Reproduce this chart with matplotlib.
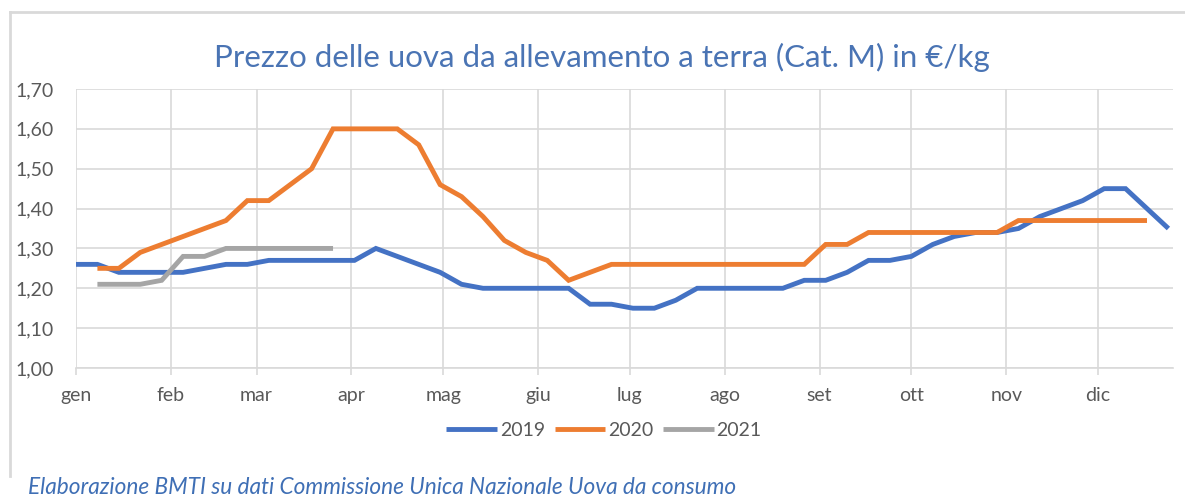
import matplotlib
matplotlib.use("Agg")
import matplotlib.pyplot as plt
from matplotlib.lines import Line2D
import numpy as np

# weekly prices (week index counted from 1 January)
prezzi_2019 = [1.26, 1.26, 1.24, 1.24, 1.24, 1.24, 1.25, 1.26, 1.26, 1.27, 1.27, 1.27, 1.27,
               1.27, 1.30, 1.28, 1.26, 1.24, 1.21, 1.20, 1.20, 1.20, 1.20, 1.20, 1.16, 1.16,
               1.15, 1.15, 1.17, 1.20, 1.20, 1.20, 1.20, 1.20, 1.22, 1.22, 1.24, 1.27, 1.27,
               1.28, 1.31, 1.33, 1.34, 1.34, 1.35, 1.38, 1.40, 1.42, 1.45, 1.45, 1.40, 1.35]
prezzi_2020 = [None, 1.25, 1.25, 1.29, 1.31, 1.33, 1.35, 1.37, 1.42, 1.42, 1.46, 1.50, 1.60,
               1.60, 1.60, 1.60, 1.56, 1.46, 1.43, 1.38, 1.32, 1.29, 1.27, 1.22, 1.24, 1.26,
               1.26, 1.26, 1.26, 1.26, 1.26, 1.26, 1.26, 1.26, 1.26, 1.31, 1.31, 1.34, 1.34,
               1.34, 1.34, 1.34, 1.34, 1.34, 1.37, 1.37, 1.37, 1.37, 1.37, 1.37, 1.37]
prezzi_2021 = [None, 1.21, 1.21, 1.21, 1.22, 1.28, 1.28, 1.30, 1.30, 1.30, 1.30, 1.30, 1.30]

mesi = ["gen", "feb", "mar", "apr", "mag", "giu", "lug", "ago", "set", "ott", "nov", "dic"]
inizio_mese = [0, 31, 59, 90, 120, 151, 181, 212, 243, 273, 304, 334]
y_ticks = [1.00, 1.10, 1.20, 1.30, 1.40, 1.50, 1.60, 1.70]

W, H = 1185, 497
plt.rcParams['font.family'] = ['Lato', 'DejaVu Sans']

fig = plt.figure(figsize=(W / 100, H / 100), dpi=100)
ax = fig.add_axes([76 / W, 1 - 368 / H, (1173 - 76) / W, (368 - 89) / H])

grid_col = '#D9D9D9'
text_col = '#595959'

series = [("2019", prezzi_2019, '#4472C4'),
          ("2020", prezzi_2020, '#ED7D31'),
          ("2021", prezzi_2021, '#A5A5A5')]
for nome, vals, col in series:
    v = np.array([np.nan if x is None else x for x in vals], dtype=float)
    giorni = np.arange(len(v)) * 7
    ax.plot(giorni, v, color=col, lw=3.5, label=nome, solid_joinstyle='miter',
            solid_capstyle='butt')

ax.set_xlim(0, 358.5)
ax.set_ylim(1.0, 1.70)
ax.set_xticks(inizio_mese)
ax.set_xticklabels(mesi)
ax.set_yticks(y_ticks)
ax.set_yticklabels([f"{t:.2f}".replace('.', ',') for t in y_ticks])
ax.grid(True, color=grid_col, lw=1.2)
ax.set_axisbelow(True)
for s in ['top', 'right', 'left']:
    ax.spines[s].set_visible(False)
ax.spines['bottom'].set_color(grid_col)
ax.spines['bottom'].set_linewidth(1.2)
ax.tick_params(axis='x', colors=text_col, labelsize=14, length=5, width=1.2, pad=9,
               color=grid_col)
ax.tick_params(axis='y', colors=text_col, labelsize=14, length=0, pad=16)

fig.text(602 / W, 1 - 57 / H, "Prezzo delle uova da allevamento a terra (Cat. M) in €/kg",
         ha='center', va='center', color='#4A74B4', fontsize=22.5)

leg = fig.legend(loc='center', bbox_to_anchor=(604 / W, 1 - 430 / H), ncol=3,
                 frameon=False, fontsize=14, handlelength=2.6, handletextpad=0.15,
                 columnspacing=0.5)
for t in leg.get_texts():
    t.set_color(text_col)

fig.text(28 / W, 1 - 487 / H,
         "Elaborazione BMTI su dati Commissione Unica Nazionale Uova da consumo",
         ha='left', va='center', color='#3F6FB5', fontsize=16.3, style='italic')

# chart frame (top and left edge)
fig.add_artist(Line2D([10 / W, 1.0], [1 - 12 / H, 1 - 12 / H], color=grid_col, lw=2))
fig.add_artist(Line2D([10 / W, 10 / W], [1 - 12 / H, 1 - 476 / H], color=grid_col, lw=2))

fig.savefig("out.png", dpi=100)
